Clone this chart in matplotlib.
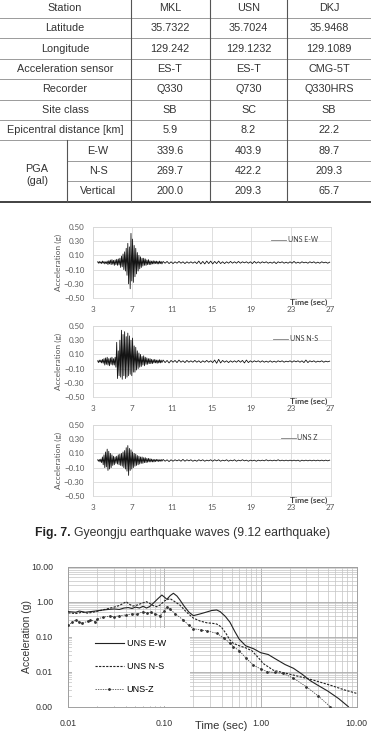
import matplotlib.pyplot as plt
import numpy as np
from matplotlib.patches import Rectangle

W, H = 371, 731

# ---- table data ----
header = ["Station", "MKL", "USN", "DKJ"]
row_names = ["Latitude", "Longitude", "Acceleration sensor", "Recorder",
             "Site class", "Epicentral distance [km]"]
latitude = ["35.7322", "35.7024", "35.9468"]
longitude = ["129.242", "129.1232", "129.1089"]
sensor = ["ES-T", "ES-T", "CMG-5T"]
recorder = ["Q330", "Q730", "Q330HRS"]
site_class = ["SB", "SC", "SB"]
epi_dist = ["5.9", "8.2", "22.2"]
pga_comp = ["E-W", "N-S", "Vertical"]
pga_ew = ["339.6", "403.9", "89.7"]
pga_ns = ["269.7", "422.2", "209.3"]
pga_v = ["200.0", "209.3", "65.7"]

# ---- acceleration records (g) ----
acc_ew_main = [0.01, -0.01, 0.015, -0.01, 0.01, -0.015, 0.02, -0.01, 0.015, -0.02, 0.01, -0.015, 0.02,
               -0.03, 0.025, -0.02, 0.035, -0.03, 0.04, -0.025, 0.03, -0.04, 0.035, -0.03, 0.045, -0.04, 0.05, -0.035,
               0.06, -0.07, 0.09, -0.06, 0.12, -0.1, 0.15, -0.12,
               0.2, -0.18, 0.27, -0.3, 0.22, -0.37, 0.41, -0.26, 0.33, -0.28, 0.24,
               -0.2, 0.2, -0.16, 0.14, -0.12, 0.1, -0.09, 0.08, -0.07, 0.06,
               -0.05, 0.06, -0.04, 0.05, -0.04, 0.035, -0.03, 0.04, -0.03, 0.025, -0.03, 0.02,
               -0.02, 0.025, -0.02, 0.02, -0.015, 0.02, -0.02, 0.015, -0.02, 0.02, -0.015, 0.015, -0.02]
acc_ew_tail = [0.015, -0.01, 0.015, -0.015, 0.01,
               -0.015, 0.01, -0.01, 0.015, -0.01, 0.01, -0.015, 0.01, -0.01, 0.01,
               -0.01, 0.01, -0.015, 0.02, -0.02, 0.015, -0.02, 0.02, -0.015, 0.02,
               -0.02, 0.015, -0.015, 0.02, -0.015, 0.01, -0.015, 0.01, -0.01, 0.015,
               -0.01, 0.01, -0.01, 0.015, -0.01, 0.01, -0.005, 0.01, -0.01, 0.01,
               -0.015, 0.015, -0.01, 0.01, -0.01, 0.01, -0.005, 0.01, -0.01, 0.005,
               -0.01, 0.01, -0.015, 0.01, -0.005, 0.01, -0.01, 0.005, -0.01, 0.01,
               -0.01, 0.015, -0.01, 0.005, -0.01, 0.01, -0.005, 0.005, -0.01, 0.01,
               -0.005, 0.01, -0.01, 0.005, -0.01, 0.01, -0.005, 0.005, -0.01, 0.005]
acc_ns_main = [0.01, -0.015, 0.02, -0.01, 0.02, -0.02, 0.03, -0.025,
               0.04, -0.05, 0.05, -0.04, 0.06, -0.05, 0.04, -0.06, 0.05, -0.04, 0.06, -0.05, 0.04, -0.05, 0.06, -0.08,
               0.27, -0.24, 0.15, -0.2,
               0.3, -0.22, 0.44, -0.25, 0.38, -0.2, 0.42, -0.24, 0.35, -0.22, 0.4, -0.2, 0.36, -0.18, 0.3, -0.2, 0.33, -0.15,
               0.22, -0.15, 0.2, -0.12, 0.15, -0.1, 0.12, -0.08, 0.1, -0.07,
               0.07, -0.05, 0.08, -0.06, 0.06, -0.04, 0.05, -0.04, 0.04, -0.03, 0.04, -0.03,
               0.03, -0.03, 0.025, -0.02, 0.03, -0.02, 0.02, -0.025, 0.02, -0.02, 0.025, -0.02, 0.02, -0.015]
acc_ns_tail = [0.02, -0.015, 0.015, -0.02, 0.015,
               -0.01, 0.015, -0.015, 0.02, -0.01, 0.01, -0.015, 0.015, -0.01, 0.01,
               -0.01, 0.015, -0.01, 0.01, -0.015, 0.01, -0.01, 0.015, -0.01, 0.01,
               -0.015, 0.02, -0.025, 0.03, -0.02, 0.015, -0.01, 0.01, -0.015, 0.01,
               -0.01, 0.01, -0.01, 0.015, -0.01, 0.015, -0.02, 0.02, -0.015, 0.01,
               -0.01, 0.01, -0.005, 0.01, -0.01, 0.01, -0.01, 0.005, -0.01, 0.01,
               -0.01, 0.005, -0.01, 0.01, -0.005, 0.01, -0.01, 0.005, -0.005, 0.01,
               -0.01, 0.01, -0.005, 0.01, -0.01, 0.01, -0.015, 0.02, -0.015, 0.01,
               -0.005, 0.01, -0.01, 0.005, -0.005, 0.01, -0.01, 0.005, -0.005, 0.005]
acc_z_main = [0.01, -0.01, 0.015, -0.02, 0.02, -0.03,
              0.05, -0.06, 0.08, -0.1, 0.12, -0.09, 0.16, -0.14, 0.13, -0.12, 0.1, -0.1, 0.08, -0.07, 0.06, -0.06,
              0.05, -0.04, 0.06, -0.05, 0.08, -0.06, 0.09, -0.07,
              0.1, -0.08, 0.12, -0.1, 0.14, -0.12, 0.18, -0.15, 0.21, -0.21, 0.17, -0.14, 0.15, -0.12, 0.12, -0.1, 0.1,
              -0.08, 0.09, -0.07, 0.07, -0.06, 0.06, -0.05, 0.05, -0.04, 0.05, -0.04, 0.04, -0.03, 0.04,
              -0.03, 0.03, -0.025, 0.03, -0.02, 0.025, -0.02, 0.02, -0.02, 0.015, -0.02, 0.015, -0.015, 0.015,
              -0.01, 0.015, -0.015, 0.01, -0.01, 0.015, -0.01]
acc_z_tail = [0.015, -0.01, 0.01, -0.015, 0.01,
              -0.01, 0.01, -0.005, 0.01, -0.01, 0.015, -0.01, 0.01, -0.005, 0.01,
              -0.01, 0.005, -0.01, 0.01, -0.005, 0.01, -0.01, 0.005, -0.005, 0.01,
              -0.01, 0.01, -0.005, 0.01, -0.01, 0.005, -0.005, 0.01, -0.01, 0.005,
              -0.005, 0.01, -0.01, 0.005, -0.005, 0.01, -0.005, 0.005, -0.01, 0.005,
              -0.005, 0.005, -0.01, 0.005, -0.005, 0.005, -0.005, 0.01, -0.005, 0.005,
              -0.005, 0.005, -0.005, 0.01, -0.005, 0.005, -0.005, 0.005, -0.005, 0.005,
              -0.005, 0.005, -0.005, 0.005, -0.01, 0.005, -0.005, 0.005, -0.005, 0.005,
              -0.005, 0.005, -0.005, 0.005, -0.005, 0.005, -0.005, 0.005, -0.005, 0.005]
wave_labels = ["UNS E-W", "UNS N-S", "UNS Z"]

# ---- response spectra ----
T_ew = [0.010, 0.012, 0.013, 0.015, 0.017, 0.020, 0.023, 0.026, 0.030, 0.034, 0.038, 0.042, 0.046,
        0.050, 0.055, 0.060, 0.065, 0.070, 0.078, 0.085, 0.094, 0.100, 0.106, 0.115, 0.124, 0.135,
        0.145, 0.160, 0.180, 0.200, 0.230, 0.270, 0.310, 0.350, 0.380, 0.430, 0.480, 0.540, 0.600,
        0.700, 0.850, 1.000, 1.200, 1.400, 1.800, 2.200, 2.700, 3.300, 4.000, 5.000, 6.500, 8.200]
S_ew = [0.52, 0.50, 0.54, 0.50, 0.52, 0.55, 0.58, 0.60, 0.62, 0.60, 0.66, 0.68, 0.64,
        0.70, 0.66, 0.74, 0.66, 0.72, 0.95, 1.20, 1.55, 1.35, 1.17, 1.50, 1.74, 1.45,
        1.12, 0.75, 0.50, 0.40, 0.44, 0.50, 0.56, 0.58, 0.52, 0.38, 0.26, 0.14, 0.085,
        0.055, 0.045, 0.035, 0.031, 0.024, 0.016, 0.0125, 0.0085, 0.0055, 0.0040, 0.0028, 0.0017, 0.0010]
T_ns = [0.010, 0.012, 0.014, 0.016, 0.018, 0.021, 0.025, 0.030, 0.034, 0.038, 0.040, 0.043, 0.047,
        0.052, 0.058, 0.065, 0.070, 0.076, 0.083, 0.090, 0.100, 0.114, 0.125, 0.145, 0.170, 0.200,
        0.235, 0.275, 0.320, 0.350, 0.390, 0.440, 0.480, 0.520, 0.590, 0.700, 0.810, 0.950, 1.070,
        1.360, 2.200, 3.500, 5.500, 7.500, 10.00]
S_ns = [0.48, 0.46, 0.50, 0.47, 0.50, 0.55, 0.62, 0.70, 0.78, 0.92, 1.00, 0.85, 0.75,
        0.80, 0.90, 1.00, 0.90, 0.78, 0.72, 0.80, 1.05, 1.23, 1.05, 0.80, 0.50, 0.34,
        0.28, 0.25, 0.24, 0.23, 0.19, 0.12, 0.08, 0.065, 0.056, 0.048, 0.040, 0.025, 0.017,
        0.011, 0.0080, 0.0058, 0.0040, 0.0030, 0.0024]
T_z = [0.010, 0.011, 0.012, 0.013, 0.014, 0.016, 0.017, 0.019, 0.020, 0.023, 0.027, 0.030, 0.034,
       0.040, 0.046, 0.052, 0.060, 0.066, 0.072, 0.080, 0.090, 0.100, 0.106, 0.115, 0.130, 0.157,
       0.180, 0.200, 0.240, 0.275, 0.350, 0.420, 0.480, 0.520, 0.600, 0.700, 0.840, 1.000, 1.160,
       1.400, 1.720, 2.200, 3.000, 4.000, 5.300]
S_z = [0.21, 0.26, 0.30, 0.26, 0.24, 0.28, 0.30, 0.27, 0.32, 0.36, 0.39, 0.37, 0.40,
       0.42, 0.45, 0.44, 0.52, 0.48, 0.50, 0.44, 0.40, 0.55, 0.70, 0.60, 0.45, 0.30,
       0.21, 0.17, 0.155, 0.148, 0.125, 0.09, 0.065, 0.052, 0.040, 0.025, 0.0155, 0.012, 0.0101,
       0.0095, 0.0089, 0.0065, 0.0037, 0.0020, 0.0010]
spec_labels = ["UNS E-W", "UNS N-S", "UNS-Z"]
spec_yticks = [10, 1, 0.1, 0.01, 0.001]
spec_ylabels = ["10.00", "1.00", "0.10", "0.01", "0.00"]
spec_xticks = [0.01, 0.1, 1, 10]
spec_xlabels = ["0.01", "0.10", "1.00", "10.00"]


def fx(px):
    return px / W


def fy(py):
    return 1 - py / H


fig = plt.figure(figsize=(W / 100, H / 100), dpi=100)
plt.rcParams['font.family'] = ['Liberation Sans', 'DejaVu Sans']

# ---- table, drawn in pixel coordinates ----
tab = fig.add_axes([0, 0, 1, 1])
tab.set_xlim(0, W)
tab.set_ylim(H, 0)
tab.axis('off')

top, rh = -2.4, 20.4
col_x = [65, 170, 248.5, 329]
txt = dict(fontsize=7.8, color='#333333', ha='center', va='center')
rows = [header] + [[n] + v for n, v in zip(row_names, [latitude, longitude, sensor, recorder,
                                                       site_class, epi_dist])]
for r, row in enumerate(rows):
    yc = top + rh * (r + 0.5)
    for c, s in enumerate(row):
        tab.text(col_x[c], yc, s, **txt)
for k, vals in enumerate([pga_ew, pga_ns, pga_v]):
    yc = top + rh * (7 + k + 0.5)
    tab.text(98, yc, pga_comp[k], **txt)
    for c, s in enumerate(vals):
        tab.text(col_x[c + 1], yc, s, **txt)
tab.text(37, top + rh * 8.4, "PGA", **txt)
tab.text(37, top + rh * 9.0, "(gal)", **txt)

for r in range(1, 10):
    y = top + rh * r
    x0 = 67 if r in (8, 9) else 0
    tab.plot([x0, W], [y, y], color='#9a9a9a', lw=0.7)
tab.plot([0, W], [top + rh * 10] * 2, color='#333333', lw=1.3)
for x in [131, 210, 287]:
    tab.plot([x, x], [0, top + rh * 10], color='#555555', lw=0.8)
tab.plot([67, 67], [top + rh * 7, top + rh * 10], color='#555555', lw=0.8)

# ---- seismograms ----
t_main = 3.5 + 0.08 * np.arange(len(acc_ew_main))
t_tail = 10.1 + 0.2 * np.arange(len(acc_ew_tail))
waves = [(acc_ew_main, acc_ew_tail), (acc_ns_main, acc_ns_tail), (acc_z_main, acc_z_tail)]
panel_top = [227, 326, 425]
panel_h = 71
for k, (main, tail) in enumerate(waves):
    y0 = panel_top[k]
    ax = fig.add_axes([fx(92.7), fy(y0 + panel_h), fx(330.7) - fx(92.7), panel_h / H])
    t = np.concatenate([t_main, t_tail])
    a = np.concatenate([main, tail])
    ax.plot(t, a, color='#141414', lw=0.6, label=wave_labels[k])
    ax.set_xlim(3, 27)
    ax.set_ylim(-0.5, 0.5)
    ax.set_xticks(np.arange(3, 28, 4))
    ax.set_yticks([-0.5, -0.3, -0.1, 0.1, 0.3, 0.5])
    ax.yaxis.set_major_formatter('{x:.2f}')
    ax.grid(color='#d9d9d9', lw=0.6)
    ax.set_axisbelow(True)
    for sp in ax.spines.values():
        sp.set_color('#d9d9d9')
        sp.set_linewidth(0.6)
    ax.tick_params(length=0, labelsize=5.8, labelcolor='#595959')
    ax.tick_params(axis='y', pad=6)
    ax.tick_params(axis='x', pad=5.5)
    for lab in ax.get_xticklabels() + ax.get_yticklabels():
        lab.set_family('Lato')
    leg = ax.legend(loc='upper right', bbox_to_anchor=(0.96, 0.92), frameon=False,
                    handlelength=2.2, handletextpad=0.2, borderpad=0,
                    prop={'family': 'Lato', 'size': 5})
    leg.get_lines()[0].set_color('#7f7f7f')
    leg.get_texts()[0].set_color('#404040')
    fig.text(fx(58), fy(y0 + panel_h / 2), "Acceleration (g)", rotation=90, ha='center',
             va='center', fontsize=6, color='#595959', family='Lato')
    fig.text(fx(327), fy(y0 + panel_h + 4), "Time (sec)", ha='right', va='center',
             fontsize=6, color='#404040', family='Lato', weight='bold')

# ---- caption ----
cap1 = fig.text(fx(35), fy(533), "Fig. 7.", fontsize=8.8, weight='bold', color='#222222',
                va='center')
fig.canvas.draw()
bb = cap1.get_window_extent()
fig.text(fx(bb.x1 + 3), fy(533), "Gyeongju earthquake waves (9.12 earthquake)", fontsize=8.8,
         color='#333333', va='center')

# ---- response spectra ----
sx = fig.add_axes([fx(68.3), fy(706.7), fx(356.7) - fx(68.3), 140 / H])
sx.set_xscale('log')
sx.set_yscale('log')
sx.set_xlim(0.01, 10)
sx.set_ylim(0.001, 10)
sx.grid(which='major', color='#a8a8a8', lw=0.6)
sx.grid(which='minor', color='#c4c4c4', lw=0.5)
sx.set_axisbelow(True)
for sp in sx.spines.values():
    sp.set_color('#a0a0a0')
    sp.set_linewidth(0.7)
sx.add_patch(Rectangle((0.013, 0.005), 0.41, 0.557, transform=sx.transAxes,
                       facecolor='white', edgecolor='none', zorder=1))
sx.plot(T_ew, S_ew, color='#222222', lw=0.8, label=spec_labels[0], zorder=3)
sx.plot(T_ns, S_ns, color='#222222', lw=0.8, ls=(0, (2, 1.2)), label=spec_labels[1], zorder=3)
sx.plot(T_z, S_z, color='#333333', lw=0.5, ls=(0, (2, 1.5)), marker='o', ms=1.0,
        label=spec_labels[2], zorder=3)
sx.set_xticks(spec_xticks)
sx.set_xticklabels(spec_xlabels)
sx.set_yticks(spec_yticks)
sx.set_yticklabels(spec_ylabels)
sx.tick_params(which='both', length=0)
sx.tick_params(labelsize=6.3, labelcolor='#333333')
sx.tick_params(axis='x', pad=9)
sx.tick_params(axis='y', pad=11)
sx.legend(loc='center left', bbox_to_anchor=(0.0926, 0.286), frameon=False, fontsize=6.5,
          handlelength=3.2, handletextpad=0.3, labelspacing=1.55, borderpad=0,
          borderaxespad=0)
fig.text(fx(27), fy(636.7), "Acceleration (g)", rotation=90, ha='center', va='center',
         fontsize=7.5, color='#333333')
fig.text(fx(221), fy(726), "Time (sec)", ha='center', va='center', fontsize=8,
         color='#333333')

fig.savefig('out.png', dpi=100)
